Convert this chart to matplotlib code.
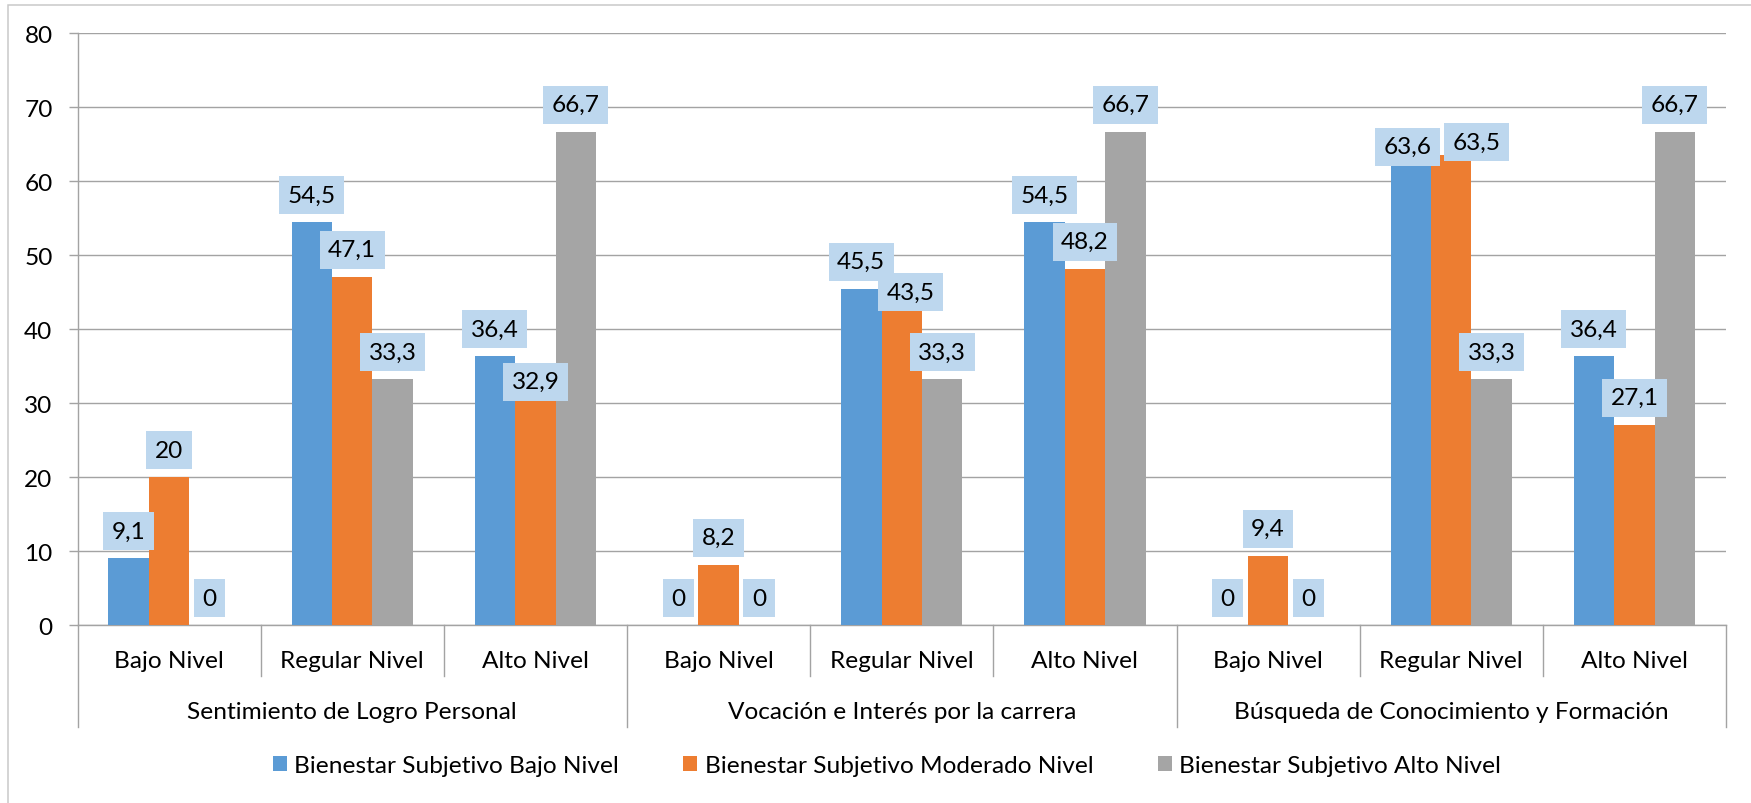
import matplotlib
matplotlib.use("Agg")
import matplotlib.pyplot as plt
import numpy as np
from matplotlib.lines import Line2D
from matplotlib.patches import Rectangle
from matplotlib.transforms import blended_transform_factory

plt.rcParams["font.family"] = ["Lato", "DejaVu Sans"]

# --- data ---
groups = [
    "Sentimiento de Logro Personal",
    "Vocación e Interés por la carrera",
    "Búsqueda de Conocimiento y Formación",
]
levels = ["Bajo Nivel", "Regular Nivel", "Alto Nivel"]
series_names = [
    "Bienestar Subjetivo Bajo Nivel",
    "Bienestar Subjetivo Moderado Nivel",
    "Bienestar Subjetivo Alto Nivel",
]
bajo = [9.1, 54.5, 36.4, 0, 45.5, 54.5, 0, 63.6, 36.4]
moderado = [20, 47.1, 32.9, 8.2, 43.5, 48.2, 9.4, 63.5, 27.1]
alto = [0, 33.3, 66.7, 0, 33.3, 66.7, 0, 33.3, 66.7]
y_ticks = [0, 10, 20, 30, 40, 50, 60, 70, 80]

# --- style ---
colors = ["#5B9BD5", "#ED7D31", "#A5A5A5"]
label_bg = "#BDD7EE"
grid_c = "#A3A3A3"
FS = 17.6
PX = 72.0 / 100.0  # points per pixel at dpi 100
# labels that were dragged by hand in the original (series, category): (dx, dy) px
nudges = {(1, 2): (0, -27), (1, 4): (9, -16), (0, 7): (-3, -19), (1, 7): (25, -14)}


def fmt(v):
    return str(int(v)) if float(v).is_integer() else f"{v:.1f}".replace(".", ",")


W, H = 1751, 804
fig = plt.figure(figsize=(W / 100, H / 100), dpi=100)
left, right, y0, y80 = 77.5, 1726.0, 626.3, 34.3
ax = fig.add_axes([left / W, 1 - y0 / H, (right - left) / W, (y0 - y80) / H])

# outer chart border (only top and left visible in the crop)
fig.patches.append(Rectangle((8 / W, -0.2), 1.2, 1.2 - 5.5 / H,
                             transform=fig.transFigure, fill=False,
                             edgecolor="#C9C9C9", lw=1.1, zorder=0))

categories = [lv for _ in groups for lv in levels]
x = np.arange(len(categories))
bw = 0.221
data = [bajo, moderado, alto]
bars = []
for i, vals in enumerate(data):
    b = ax.bar(x + (i - 1) * bw, vals, width=bw, color=colors[i],
               label=series_names[i], zorder=3, linewidth=0)
    bars.append(b)

pad_px = 8.5
for i, vals in enumerate(data):
    for j, v in enumerate(vals):
        dx, dy = nudges.get((i, j), (0, 0))
        ax.annotate(fmt(v), xy=(x[j] + (i - 1) * bw, v),
                    xytext=(dx * PX, (8 + pad_px + dy) * PX),
                    textcoords="offset points", ha="center", va="bottom",
                    fontsize=FS, color="black", zorder=5,
                    bbox=dict(boxstyle=f"square,pad={pad_px * PX / FS:.3f}",
                              fc=label_bg, ec="none"))

ax.set_xlim(-0.5, len(categories) - 0.5)
ax.set_ylim(0, 80)
ax.set_yticks(y_ticks)
ax.yaxis.grid(True, color=grid_c, lw=1.0, zorder=0)
ax.set_axisbelow(True)
for s in ["top", "right"]:
    ax.spines[s].set_visible(False)
for s in ["left", "bottom"]:
    ax.spines[s].set_color(grid_c)
    ax.spines[s].set_linewidth(1.0)
ax.tick_params(axis="y", length=9 * PX, width=1.0, color=grid_c,
               pad=16 * PX, labelsize=FS)

ax.set_xticks(x, categories)
ax.tick_params(axis="x", length=0, pad=35 * PX, labelsize=FS)
for t in ax.get_xticklabels():
    t.set_va("center")

# multi-level axis separators and group labels
trans = blended_transform_factory(ax.transData, ax.transAxes)
ax_h = y0 - y80
for k in range(len(categories) + 1):
    depth = 102 if k % 3 == 0 else 51
    ax.add_line(Line2D([k - 0.5, k - 0.5], [0, -depth / ax_h], transform=trans,
                       color=grid_c, lw=1.0, clip_on=False))
for g, name in enumerate(groups):
    ax.text(3 * g + 1, -(712.7 - y0) / ax_h, name, transform=trans,
            ha="center", va="center", fontsize=FS)

fig.legend(handles=bars, labels=series_names, loc="center",
           bbox_to_anchor=(887 / W, 1 - 766.7 / H), ncol=3, frameon=False,
           fontsize=FS, handlelength=0.57, handleheight=0.57,
           handletextpad=0.3, columnspacing=2.65)

fig.savefig("out.png", dpi=100)
plt.close(fig)
